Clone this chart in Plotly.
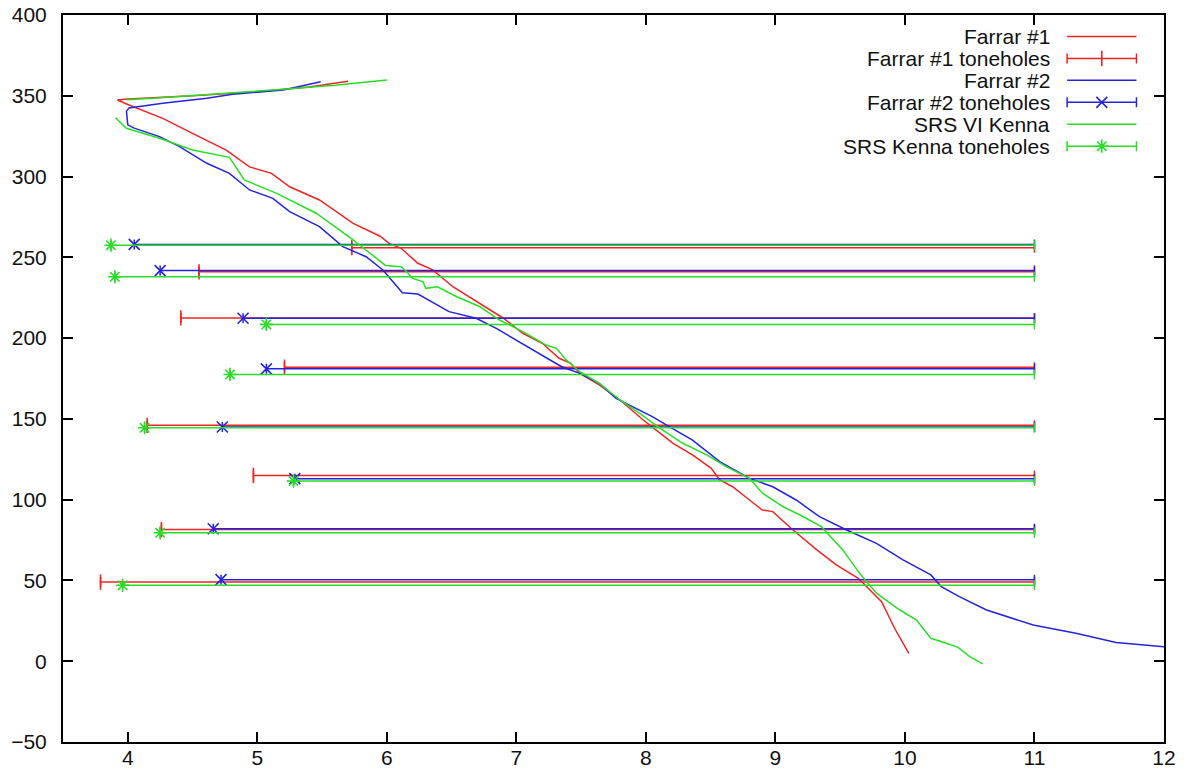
import plotly.graph_objects as go

# ---- bore profiles (position vs. distance) ----
farrar1_x = [5.70, 5.40, 5.00, 4.50, 4.00, 3.92, 4.01, 4.27, 4.55, 4.76, 4.94, 5.11, 5.25, 5.48,
             5.74, 5.945, 6.02, 6.11, 6.24, 6.355, 6.51, 6.72, 6.90, 7.05, 7.20, 7.33, 7.42, 7.49,
             7.64, 7.80, 7.98, 8.08, 8.21, 8.36, 8.505, 8.57, 8.67, 8.80, 8.90, 8.98, 9.12, 9.32,
             9.47, 9.64, 9.73, 9.82, 9.92, 10.03]
farrar1_y = [359.0, 355.5, 352.5, 350.0, 348.0, 347.4, 344.3, 336.0, 324.7, 316.4, 306.0, 302.0,
             293.7, 285.5, 271.0, 263.2, 258.5, 255.6, 246.3, 242.2, 231.8, 221.5, 212.3, 203.0,
             196.8, 187.5, 184.4, 178.2, 171.0, 161.7, 149.3, 143.1, 134.9, 127.7, 119.4, 112.2,
             108.0, 99.8, 93.6, 92.6, 82.3, 68.9, 59.6, 51.3, 44.1, 36.9, 20.4, 4.9]

farrar2_x = [5.49, 5.20, 4.81, 4.61, 4.27, 4.09, 4.01, 3.99, 4.00, 4.05, 4.245, 4.40, 4.61, 4.785,
             4.94, 5.12, 5.25, 5.48, 5.66, 5.84, 5.97, 6.12, 6.24, 6.48, 6.69, 6.845, 7.13, 7.35,
             7.49, 7.64, 7.77, 7.90, 8.05, 8.16, 8.36, 8.57, 8.80, 8.98, 9.16, 9.34, 9.55, 9.78,
             9.985, 10.20, 10.28, 10.42, 10.63, 10.99, 11.32, 11.63, 12.0]
farrar2_y = [358.7, 353.6, 350.9, 348.4, 345.3, 343.2, 342.5, 340.5, 332.0, 330.0, 324.7, 318.5,
             308.2, 302.0, 291.7, 286.5, 278.3, 269.0, 256.6, 250.4, 242.2, 228.1, 227.3, 216.4,
             212.3, 206.0, 192.6, 182.3, 178.2, 172.0, 162.7, 157.6, 151.4, 146.2, 136.9, 123.5,
             113.2, 108.0, 99.8, 89.5, 81.2, 73.0, 62.7, 53.4, 46.2, 40.0, 31.7, 22.4, 17.3,
             11.6, 9.0]

kenna_x = [6.00, 5.60, 5.20, 4.61, 4.20, 3.99, None,
           3.905, 3.99, 4.245, 4.50, 4.785, 4.90, 5.15, 5.455, 5.74, 5.90, 5.99, 6.11, 6.14,
           6.20, 6.28, 6.30, 6.39, 6.54, 6.72, 6.87, 7.05, 7.23, 7.31, 7.385, 7.49, 7.64, 7.80,
           7.95, 8.11, 8.285, 8.47, 8.62, 8.80, 8.90, 9.06, 9.19, 9.355, 9.52, 9.65, 9.78, 9.96,
           10.09, 10.20, 10.32, 10.41, 10.50, 10.60]
kenna_y = [359.8, 356.5, 354.0, 350.5, 348.5, 347.6, None,
           336.4, 329.9, 323.7, 316.4, 311.9, 297.9, 289.6, 277.3, 260.8, 251.0, 245.0, 244.2,
           242.2, 237.0, 234.9, 230.8, 231.8, 225.6, 219.4, 211.2, 204.0, 195.7, 193.7, 186.5,
           179.2, 172.0, 161.7, 153.5, 144.2, 134.9, 127.7, 120.4, 113.2, 104.0, 95.6, 90.5,
           83.3, 68.9, 54.4, 42.1, 31.7, 25.5, 14.2, 11.1, 8.6, 2.8, -1.7]

# ---- tone holes: (diameter, position); bars run out to BAR_END ----
BAR_END = 11.0
farrar1_holes_x = [5.73, 4.55, 4.41, 5.21, 4.15, 4.97, 4.26, 3.79]
farrar1_holes_y = [256.0, 241.0, 212.5, 182.0, 146.0, 115.0, 81.5, 49.0]

farrar2_holes_x = [4.05, 4.25, 4.89, 5.07, 4.73, 5.29, 4.66, 4.72]
farrar2_holes_y = [258.0, 241.8, 212.3, 181.0, 145.0, 113.0, 82.0, 50.5]

kenna_holes_x = [3.87, 3.90, 5.07, 4.79, 4.13, 5.28, 4.25, 3.96]
kenna_holes_y = [257.5, 238.0, 208.5, 177.5, 144.5, 111.5, 79.5, 47.0]

x_ticks = [4, 5, 6, 7, 8, 9, 10, 11, 12]
y_ticks = [-50, 0, 50, 100, 150, 200, 250, 300, 350, 400]

RED = "#ee2424"
BLUE = "#2424dc"
GREEN = "#28dc28"
FONT = "Liberation Sans, Arial, sans-serif"

names = ["Farrar #1", "Farrar #1 toneholes", "Farrar #2",
         "Farrar #2 toneholes", "SRS VI Kenna", "SRS Kenna toneholes"]

fig = go.Figure()


def profile(x, y, color):
    fig.add_trace(go.Scatter(x=x, y=y, mode="lines", showlegend=False,
                             connectgaps=False, line=dict(color=color, width=1.5)))


def holes(x, y, color, symbol):
    fig.add_trace(go.Scatter(
        x=x, y=y, mode="markers", showlegend=False,
        marker=dict(symbol=symbol, size=11, color=color,
                    line=dict(color=color, width=1.6)),
        error_x=dict(type="data", symmetric=False,
                     array=[BAR_END - v for v in x],
                     arrayminus=[0] * len(x),
                     color=color, thickness=1.5, width=5)))


profile(farrar1_x, farrar1_y, RED)
holes(farrar1_holes_x, farrar1_holes_y, RED, "line-ns")
profile(farrar2_x, farrar2_y, BLUE)
holes(farrar2_holes_x, farrar2_holes_y, BLUE, "x-thin")
profile(kenna_x, kenna_y, GREEN)
holes(kenna_holes_x, kenna_holes_y, GREEN, "asterisk")

# ---- key in the top-right corner (text on the left, sample on the right) ----
key_text_x = 0.898
key_x0, key_x1 = 0.912, 0.975
key_mid = (key_x0 + key_x1) / 2
key_top = 0.9705
key_step = 0.0302
key_styles = [(RED, None), (RED, "line-ns"), (BLUE, None),
              (BLUE, "x-thin"), (GREEN, None), (GREEN, "asterisk")]

for i, (label, (color, symbol)) in enumerate(zip(names, key_styles)):
    ky = key_top - i * key_step
    fig.add_annotation(x=key_text_x, y=ky, xref="paper", yref="paper",
                       text=label, showarrow=False, xanchor="right", yanchor="middle",
                       font=dict(family=FONT, size=21, color="#111111"))
    if symbol is None:
        fig.add_trace(go.Scatter(x=[key_x0, key_x1], y=[ky, ky], mode="lines",
                                 xaxis="x2", yaxis="y2", showlegend=False,
                                 line=dict(color=color, width=1.5)))
    else:
        fig.add_trace(go.Scatter(
            x=[key_mid], y=[ky], mode="markers", xaxis="x2", yaxis="y2",
            showlegend=False,
            marker=dict(symbol=symbol, size=11, color=color,
                        line=dict(color=color, width=1.6)),
            error_x=dict(type="constant", value=key_mid - key_x0,
                         color=color, thickness=1.5, width=5)))

axis_common = dict(showgrid=False, zeroline=False, showline=True, linecolor="black",
                   linewidth=2, ticks="inside", ticklen=10, tickwidth=1.5,
                   tickcolor="black", mirror="ticks", automargin=False,
                   tickfont=dict(family=FONT, size=21, color="#111111"))

fig.update_layout(
    width=1187, height=776,
    margin=dict(l=63, r=23, t=15, b=34),
    paper_bgcolor="white", plot_bgcolor="white",
    showlegend=False,
    xaxis=dict(range=[3.5, 12], tickvals=x_ticks, ticklabelstandoff=-4, **axis_common),
    yaxis=dict(range=[-50, 400], tickvals=y_ticks, ticklabelstandoff=10, **axis_common),
    xaxis2=dict(range=[0, 1], overlaying="x", visible=False),
    yaxis2=dict(range=[0, 1], overlaying="y", visible=False),
)

fig.write_html("out.html")
